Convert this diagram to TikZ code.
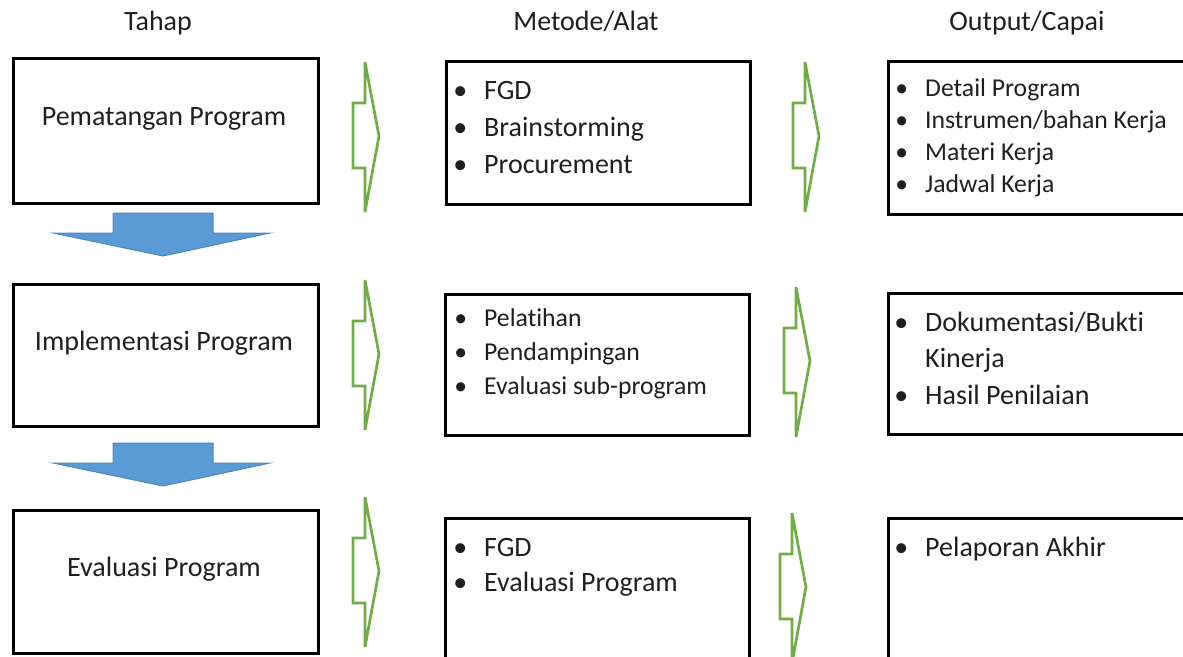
\documentclass[tikz,border=0pt]{standalone}
\usepackage{fontspec}
\setmainfont{Carlito}[RawFeature={-liga;-clig;-calt;-dlig;-rlig}]
\usetikzlibrary{positioning}
\definecolor{arrowgreen}{RGB}{112,173,71}
\definecolor{arrowblue}{RGB}{91,155,213}
\definecolor{arrowedge}{RGB}{78,134,190}

\tikzset{
	box/.style={draw, line width=2.7pt, inner sep=0pt, anchor=north west},
	big/.style={font=\fontsize{28}{34}\selectfont, text=black!88, inner sep=0pt},
	small/.style={font=\fontsize{25.7}{30}\selectfont, text=black!88, inner sep=0pt},
	garrow/.pic={\draw[arrowgreen, line width=2.7pt]
		(0,41) -- (12,41) -- (12,0) -- (26,74) -- (12,150) -- (12,106) -- (0,106) -- cycle;},
	barrow/.pic={\filldraw[fill=arrowblue, draw=arrowedge, line width=1pt]
		(60,0) -- (160,0) -- (160,20) -- (217,20) -- (110,43) -- (0,20) -- (60,20) -- cycle;}
}
\newcommand{\bul}{\llap{\textbullet\hspace{17pt}}}

\begin{document}
\begin{tikzpicture}[x=1pt, y=-1pt]

	\clip (0,0) rectangle (1183,656);

	% Column headers
	\node[big, anchor=base] (tahap)  at (158,30)  {Tahap};
	\node[big, anchor=base] (metode) at (586,30)  {Metode/Alat};
	\node[big, anchor=base] (output) at (1027,30) {Output/Capai};

	% Draw boxes for each stage
	\node[box, minimum width=305, minimum height=145] (tahap1) at (12,57)  {};
	\node[box, minimum width=305, minimum height=142] (tahap2) at (12,283) {};
	\node[box, minimum width=305, minimum height=143] (tahap3) at (12,509) {};

	\node[box, minimum width=304, minimum height=143] (metode1) at (445,60)  {};
	\node[box, minimum width=304, minimum height=141] (metode2) at (444,293) {};
	\node[box, minimum width=304, minimum height=200] (metode3) at (444,517) {};

	\node[box, minimum width=330, minimum height=153] (output1) at (887,60)  {};
	\node[box, minimum width=330, minimum height=141] (output2) at (887,292) {};
	\node[box, minimum width=330, minimum height=200] (output3) at (887,517) {};

	% Stage names
	\node[big, anchor=base] (nama1) at (164,125) {Pematangan Program};
	\node[big, anchor=base] (nama2) at (164,350) {Implementasi Program};
	\node[big, anchor=base] (nama3) at (164,576) {Evaluasi Program};

	% Methods
	\foreach \t [count=\i] in {FGD, Brainstorming, Procurement}
		\node[big, anchor=base west] (m1-\i) at (484, 62+37*\i) {\bul\t};

	\foreach \t [count=\i] in {Pelatihan, Pendampingan, Evaluasi sub-program}
		\node[small, anchor=base west] (m2-\i) at (484, 292+34*\i) {\bul\t};

	\foreach \t [count=\i] in {FGD, Evaluasi Program}
		\node[big, anchor=base west] (m3-\i) at (484, 521+35*\i) {\bul\t};

	% Outputs
	\foreach \t [count=\i] in {Detail Program, Instrumen/bahan Kerja, Materi Kerja, Jadwal Kerja}
		\node[small, anchor=base west] (o1-\i) at (925, 64+32*\i) {\bul\t};

	\node[big, anchor=base west] (o2-1) at (925,331) {\bul Dokumentasi/Bukti};
	\node[big, anchor=base west] (o2-2) at (925,367) {Kinerja};
	\node[big, anchor=base west] (o2-3) at (925,404) {\bul Hasil Penilaian};

	\node[big, anchor=base west] (o3-1) at (925,556) {\bul Pelaporan Akhir};

	% Green arrows between columns
	\foreach \x/\y in {353/62, 793/62, 353/280, 784/287, 353/497, 780/513}
		\pic at (\x,\y) {garrow};

	% Blue arrows between stages
	\foreach \y in {213, 443}
		\pic at (53,\y) {barrow};

\end{tikzpicture}
\end{document}
